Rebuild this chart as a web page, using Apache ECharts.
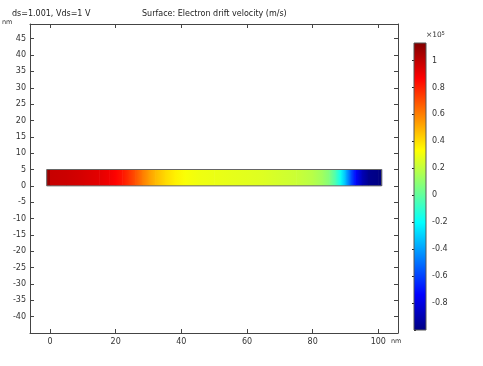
<!DOCTYPE html>
<html>
<head>
<meta charset="utf-8">
<script src="https://cdn.jsdelivr.net/npm/echarts@6/dist/echarts.min.js"></script>
<style>html,body{margin:0;padding:0;background:#fff;}#c{width:483px;height:366px;}</style>
</head>
<body>
<div id="c"></div>
<script>
// ---- data (nm, ×10^5 m/s) ----
const positions = [-1.0, 0.0, 0.0, 5, 10, 15, 18, 20, 22, 24, 26, 28, 30, 32, 35, 38, 41, 45, 50, 55, 60, 65, 70, 75, 80, 83, 85, 87, 88.5, 90, 91.5, 93, 95, 97, 100, 100, 101];
const velocity  = [1.07, 1.07, 0.98, 0.97, 0.95, 0.92, 0.89, 0.86, 0.82, 0.76, 0.69, 0.61, 0.54, 0.48, 0.41, 0.36, 0.32, 0.30, 0.29, 0.28, 0.27, 0.26, 0.24, 0.22, 0.18, 0.13, 0.07, -0.05, -0.18, -0.35, -0.55, -0.72, -0.88, -0.97, -0.99, -1.0, -1.0];
const channelY = [0, 5];
const colorRange = [-1.0, 1.13];
const xTicks = [0, 20, 40, 60, 80, 100];
const yRange = [-45, 49.5];
const xRange = [-6.09, 106.0];

function clamp(a){return Math.max(0, Math.min(1, a));}
function jet(v){
  const f = clamp((v - colorRange[0]) / (colorRange[1] - colorRange[0]));
  const r = clamp(Math.min(4*f-1.5, -4*f+4.5));
  const g = clamp(Math.min(4*f-0.5, -4*f+3.5));
  const b = clamp(Math.min(4*f+0.5, -4*f+2.5));
  return 'rgb(' + Math.round(r*255) + ',' + Math.round(g*255) + ',' + Math.round(b*255) + ')';
}

const segs = [];
for (let i = 0; i < positions.length - 1; i++) {
  segs.push([positions[i], positions[i+1], velocity[i], velocity[i+1]]);
}

const font = 'DejaVu Sans';
const txt = '#333';
const lineC = '#444';

const chart = echarts.init(document.getElementById('c'), null, {renderer: 'canvas'});

const barStops = [0, 0.125, 0.375, 0.625, 0.875, 1].map(f => ({
  offset: 1 - f,
  color: jet(colorRange[0] + f*(colorRange[1]-colorRange[0]))
}));

const option = {
  animation: false,
  backgroundColor: '#fff',
  textStyle: {fontFamily: font},
  grid: [
    {left: 30, top: 24, width: 368, height: 309, show: false},
    {left: 414, top: 43, width: 12, height: 287, show: false}
  ],
  xAxis: [
    {gridIndex: 0, type: 'value', min: xRange[0], max: xRange[1], position: 'bottom',
     axisLine: {show: true, onZero: false, lineStyle: {color: lineC}},
     axisTick: {show: true, inside: true, length: 4, customValues: xTicks, lineStyle: {color: lineC}},
     axisLabel: {show: true, fontSize: 8, color: txt, fontFamily: font, margin: 5, customValues: xTicks},
     splitLine: {show: false}},
    {gridIndex: 0, type: 'value', min: xRange[0], max: xRange[1], position: 'top',
     axisLine: {show: true, onZero: false, lineStyle: {color: lineC}},
     axisTick: {show: true, inside: true, length: 4, customValues: xTicks, lineStyle: {color: lineC}},
     axisLabel: {show: false}, splitLine: {show: false}},
    {gridIndex: 1, type: 'value', min: 0, max: 1, show: false}
  ],
  yAxis: [
    {gridIndex: 0, type: 'value', min: yRange[0], max: yRange[1], interval: 5, position: 'left',
     axisLine: {show: true, onZero: false, lineStyle: {color: lineC}},
     axisTick: {show: true, inside: true, length: 4, lineStyle: {color: lineC}},
     axisLabel: {show: true, fontSize: 8, color: txt, fontFamily: font, margin: 4, showMinLabel: false, showMaxLabel: false},
     splitLine: {show: false}},
    {gridIndex: 0, type: 'value', min: yRange[0], max: yRange[1], interval: 5, position: 'right',
     axisLine: {show: true, onZero: false, lineStyle: {color: lineC}},
     axisTick: {show: true, inside: true, length: 4, lineStyle: {color: lineC}},
     axisLabel: {show: false}, splitLine: {show: false}},
    {gridIndex: 1, type: 'value', min: colorRange[0], max: colorRange[1], interval: 0.2, position: 'right',
     axisLine: {show: false},
     axisTick: {show: true, inside: true, length: 2, lineStyle: {color: '#222'}},
     axisLabel: {show: true, fontSize: 8, color: txt, fontFamily: font, margin: 6, showMinLabel: false, showMaxLabel: false},
     splitLine: {show: false}},
    {gridIndex: 1, type: 'value', min: colorRange[0], max: colorRange[1], interval: 0.2, position: 'left',
     axisLine: {show: false},
     axisTick: {show: true, inside: true, length: 2, lineStyle: {color: '#222'}},
     axisLabel: {show: false}, splitLine: {show: false}}
  ],
  series: [
    {
      type: 'custom', xAxisIndex: 0, yAxisIndex: 0, data: segs, clip: true,
      renderItem: function(params, api){
        const x0 = api.value(0), x1 = api.value(1);
        const p0 = api.coord([x0, channelY[0]]);
        const p1 = api.coord([x1, channelY[1]]);
        const w = p1[0] - p0[0];
        if (w <= 0) return null;
        return {type: 'rect',
          shape: {x: p0[0], y: p1[1], width: w + 0.6, height: p0[1] - p1[1]},
          style: {fill: new echarts.graphic.LinearGradient(0, 0, 1, 0, [
            {offset: 0, color: jet(api.value(2))}, {offset: 1, color: jet(api.value(3))}])}};
      }
    },
    {
      type: 'custom', xAxisIndex: 0, yAxisIndex: 0, z: 5,
      data: [[positions[0], positions[positions.length-1]]],
      renderItem: function(params, api){
        const p0 = api.coord([api.value(0), channelY[0]]);
        const p1 = api.coord([api.value(1), channelY[1]]);
        return {type: 'rect', shape: {x: p0[0], y: p1[1], width: p1[0]-p0[0], height: p0[1]-p1[1]},
          style: {fill: null, stroke: '#666', lineWidth: 1}};
      }
    },
    {
      type: 'custom', xAxisIndex: 2, yAxisIndex: 2, z: 1,
      data: [[0, 1]],
      renderItem: function(params, api){
        const p0 = api.coord([0, colorRange[0]]);
        const p1 = api.coord([1, colorRange[1]]);
        return {type: 'rect', shape: {x: p0[0], y: p1[1], width: p1[0]-p0[0], height: p0[1]-p1[1]},
          style: {fill: new echarts.graphic.LinearGradient(0, 0, 0, 1, barStops), stroke: '#555', lineWidth: 1}};
      }
    }
  ],
  graphic: [
    {type: 'text', left: 12, top: 10, style: {text: 'ds=1.001, Vds=1 V', font: '8px "DejaVu Sans"', fill: '#222'}},
    {type: 'text', left: 142, top: 10, style: {text: 'Surface: Electron drift velocity (m/s)', font: '8px "DejaVu Sans"', fill: '#222'}},
    {type: 'text', left: 2, top: 19, style: {text: 'nm', font: '6.5px "DejaVu Sans"', fill: '#333'}},
    {type: 'text', left: 391, top: 338, style: {text: 'nm', font: '6.5px "DejaVu Sans"', fill: '#333'}},
    {type: 'text', left: 426, top: 31, style: {text: '×10{s|5}', font: '7.5px "DejaVu Sans"', fill: '#333',
      rich: {s: {fontSize: 5, verticalAlign: 'top', padding: [0,0,4,0], fill: '#333'}}}}
  ]
};
chart.setOption(option);
</script>
</body>
</html>
